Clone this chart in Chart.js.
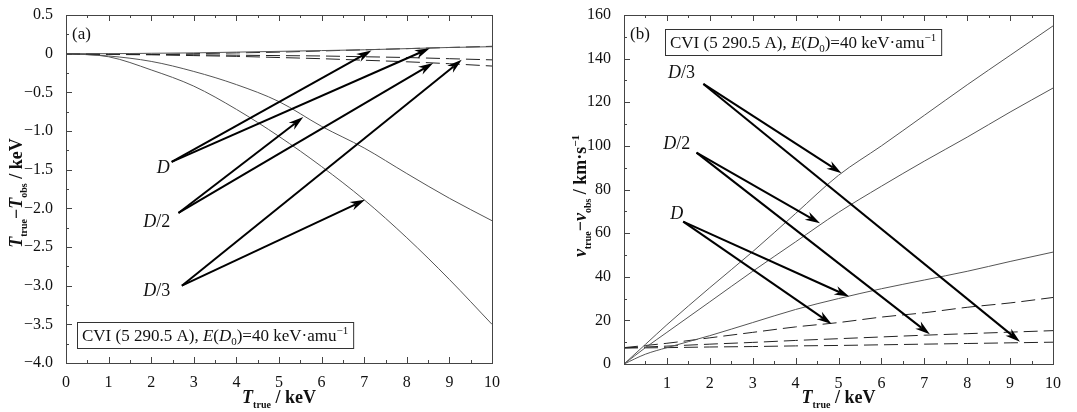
<!DOCTYPE html>
<html>
<head>
<meta charset="utf-8">
<script src="https://cdn.jsdelivr.net/npm/chart.js@4.4.1/dist/chart.umd.min.js"></script>
<style>
  body { margin: 0; background: #fff; }
  #wrap { display: flex; width: 1077px; height: 412px; }
  canvas { display: block; }
</style>
</head>
<body>
<div id="wrap">
  <canvas id="chart-a" width="540" height="412"></canvas>
  <canvas id="chart-b" width="537" height="412"></canvas>
</div>
<script>
// panel (a): T_true - T_obs (keV)
const aX = [0, 1, 2, 3, 4, 5, 6, 7, 8, 9, 10]
const aDSolid   = [0, 0, 0.005, 0.01, 0.02, 0.03, 0.04, 0.05, 0.065, 0.08, 0.09]
const aDDashed  = [0, -0.01, -0.01, 0, 0.01, 0.02, 0.035, 0.05, 0.065, 0.08, 0.095]
const aD2Solid  = [0, -0.03, -0.10, -0.23, -0.40, -0.62, -0.94, -1.22, -1.55, -1.87, -2.16]
const aD2Dashed = [0, -0.005, -0.01, -0.015, -0.02, -0.025, -0.03, -0.04, -0.05, -0.065, -0.08]
const aD3Solid  = [0, -0.04, -0.21, -0.42, -0.72, -1.07, -1.46, -1.89, -2.38, -2.92, -3.5]
const aD3Dashed = [0, -0.01, -0.015, -0.025, -0.035, -0.05, -0.065, -0.085, -0.105, -0.13, -0.16]

// panel (b): v_true - v_obs (km/s)
const bX = [0, 0.5, 1, 2, 3, 4, 5, 6, 7, 8, 9, 10]
const bD3Solid  = [0, 9, 18, 35, 51.5, 69, 86.5, 100, 114, 128, 141.5, 155]
const bD2Solid  = [0, 7.5, 14.5, 28.5, 42.5, 56, 69.5, 81.5, 93, 104, 115.5, 126.5]
const bDSolid   = [0, 4.5, 7.5, 13, 19, 25, 30, 34.5, 38.5, 42.5, 47, 51.3]
const bDDashed  = [7.5, 8.5, 9.5, 12, 14.5, 17, 19, 21.5, 23.5, 26, 28, 30.5]
const bD2Dashed = [7.4, 7.8, 8.2, 9.1, 9.9, 10.8, 11.6, 12.4, 13.2, 13.9, 14.6, 15.3]
const bD3Dashed = [7.3, 7.4, 7.5, 7.8, 8.0, 8.3, 8.5, 8.8, 9.1, 9.4, 9.7, 10.0]

// annotation arrows, data units
const aArrows = [
  { label: '', lx: 2.28, ly: -1.47, tail: [2.48, -1.40], heads: [[7.17, 0.04], [8.54, 0.07]] },
  { label: '/2', lx: 2.13, ly: -2.17, tail: [2.64, -2.06], heads: [[5.57, -0.82], [8.62, -0.12]] },
  { label: '/3', lx: 2.13, ly: -3.06, tail: [2.72, -3.0], heads: [[7.02, -1.89], [9.29, -0.08]] },
]
const bArrows = [
  { label: '/3', lx: 1.34, ly: 134, tail: [1.85, 128.4], heads: [[5.07, 87.5], [9.23, 10.2]] },
  { label: '/2', lx: 1.23, ly: 101.2, tail: [1.69, 96.9], heads: [[4.57, 64.5], [7.13, 13.6]] },
  { label: '', lx: 1.23, ly: 69.1, tail: [1.38, 65.3], heads: [[5.25, 30.9], [4.84, 18.3]] },
]

const SERIF = '"Liberation Serif", "Times New Roman", serif'
const f = (size, style) => `${style || ''} ${size}px ${SERIF}`

function pts(xs, ys) { return xs.map((x, i) => ({ x: x, y: ys[i] })) }

function solid(data) {
  return { data: data, borderColor: '#555', borderWidth: 1, pointRadius: 0, cubicInterpolationMode: 'monotone', fill: false }
}
function dashed(data) {
  return { data: data, borderColor: '#222', borderWidth: 1, borderDash: [14, 6], pointRadius: 0, cubicInterpolationMode: 'monotone', fill: false }
}

function drawRich(ctx, parts, x, y, align) {
  let w = 0
  parts.forEach(p => { ctx.font = p[1]; w += ctx.measureText(p[0]).width })
  let cx = align === 'center' ? x - w / 2 : x
  ctx.textAlign = 'left'
  ctx.textBaseline = 'alphabetic'
  parts.forEach(p => {
    ctx.font = p[1]
    ctx.fillText(p[0], cx, y + (p[2] || 0))
    cx += ctx.measureText(p[0]).width
  })
  return w
}

function arrow(ctx, x0, y0, x1, y1) {
  const a = Math.atan2(y1 - y0, x1 - x0)
  const len = 15, hw = 4.5
  const c = Math.cos(a), s = Math.sin(a)
  ctx.beginPath()
  ctx.moveTo(x0, y0)
  ctx.lineTo(x1 - c * len * 0.7, y1 - s * len * 0.7)
  ctx.stroke()
  ctx.beginPath()
  ctx.moveTo(x1, y1)
  ctx.lineTo(x1 - c * len - s * hw, y1 - s * len + c * hw)
  ctx.lineTo(x1 - c * len * 0.7, y1 - s * len * 0.7)
  ctx.lineTo(x1 - c * len + s * hw, y1 - s * len - c * hw)
  ctx.closePath()
  ctx.fill()
}

const boxParts = [
  ['CVI (5 290.5 A), ', f(17)], ['E', f(17, 'italic')], ['(', f(17)], ['D', f(17, 'italic')],
  ['0', f(11), 4], [')=40 keV·amu', f(17)], ['−1', f(11), -7],
]

// frame, inward ticks, titles, text box, arrows
const decor = {
  id: 'decor',
  afterDraw(chart, args, o) {
    const ctx = chart.ctx
    const { left, right, top, bottom } = chart.chartArea
    const sx = chart.scales.x, sy = chart.scales.y
    ctx.save()
    ctx.strokeStyle = '#444'
    ctx.lineWidth = 1
    ctx.strokeRect(left + 0.5, top + 0.5, right - left, bottom - top)
    for (let v = sx.min; v <= sx.max + 1e-9; v += o.xMinor) {
      const px = Math.round(sx.getPixelForValue(v)) + 0.5
      const major = Math.abs(v / o.xMajor - Math.round(v / o.xMajor)) < 1e-6
      const l = major ? 6 : 3
      ctx.beginPath()
      ctx.moveTo(px, bottom); ctx.lineTo(px, bottom - l)
      ctx.moveTo(px, top); ctx.lineTo(px, top + l)
      ctx.stroke()
    }
    for (let v = sy.min; v <= sy.max + 1e-9; v += o.yMinor) {
      const py = Math.round(sy.getPixelForValue(v)) + 0.5
      const major = Math.abs(v / o.yMajor - Math.round(v / o.yMajor)) < 1e-6
      const l = major ? 6 : 3
      ctx.beginPath()
      ctx.moveTo(left, py); ctx.lineTo(left + l, py)
      ctx.stroke()
    }

    ctx.fillStyle = '#111'
    ctx.font = f(17)
    ctx.textAlign = 'left'
    ctx.textBaseline = 'alphabetic'
    ctx.fillText(o.panel, left + 6, top + 24)

    // text box
    let bw = 0
    boxParts.forEach(p => { ctx.font = p[1]; bw += ctx.measureText(p[0]).width })
    ctx.strokeStyle = '#333'
    ctx.strokeRect(o.boxX + 0.5, o.boxY + 0.5, bw + 10, 26)
    drawRich(ctx, boxParts, o.boxX + 5, o.boxY + 19)

    // x title
    drawRich(ctx, [['T', f(18, 'italic bold')], ['true', f(10, 'bold'), 5], [' / keV', f(18, 'bold')]],
      (left + right) / 2, 403, 'center')

    // y title
    ctx.save()
    ctx.translate(o.yTitleX, o.yTitleY)
    ctx.rotate(-Math.PI / 2)
    drawRich(ctx, o.yTitle, 0, 0, 'center')
    ctx.restore()

    // arrows and labels
    ctx.strokeStyle = '#000'
    ctx.fillStyle = '#000'
    ctx.lineWidth = 2
    o.arrows.forEach(a => {
      const tx = sx.getPixelForValue(a.tail[0]), ty = sy.getPixelForValue(a.tail[1])
      a.heads.forEach(h => arrow(ctx, tx, ty, sx.getPixelForValue(h[0]), sy.getPixelForValue(h[1])))
      ctx.fillStyle = '#111'
      drawRich(ctx, [['D', f(18, 'italic')], [a.label, f(18)]],
        sx.getPixelForValue(a.lx), sy.getPixelForValue(a.ly) + 6, 'center')
      ctx.fillStyle = '#000'
    })
    ctx.restore()
  }
}

function scales(xOpt, yOpt, yWidth, xHeight) {
  const tickFont = { family: SERIF, size: 16 }
  return {
    x: Object.assign({
      type: 'linear', min: 0, max: 10,
      ticks: { stepSize: 1, font: tickFont, color: '#111', padding: 2, maxRotation: 0 },
      grid: { display: false }, border: { display: false },
      afterFit: s => { s.height = xHeight }
    }, xOpt),
    y: Object.assign({
      type: 'linear',
      ticks: { font: tickFont, color: '#111', padding: 5 },
      grid: { display: false }, border: { display: false },
      afterFit: s => { s.width = yWidth }
    }, yOpt)
  }
}

new Chart(document.getElementById('chart-a'), {
  type: 'line',
  data: {
    datasets: [
      solid(pts(aX, aDSolid)), dashed(pts(aX, aDDashed)),
      solid(pts(aX, aD2Solid)), dashed(pts(aX, aD2Dashed)),
      solid(pts(aX, aD3Solid)), dashed(pts(aX, aD3Dashed)),
    ]
  },
  options: {
    responsive: false, animation: false, devicePixelRatio: 1,
    layout: { padding: { left: 0, right: 48, top: 15, bottom: 0 } },
    plugins: {
      legend: { display: false }, tooltip: { enabled: false },
      decor: {
        panel: '(a)', xMinor: 0.5, xMajor: 1, yMinor: 0.25, yMajor: 0.5,
        boxX: 77, boxY: 322, yTitleX: 22, yTitleY: 193, arrows: aArrows,
        yTitle: [['T', f(18, 'italic bold')], ['true', f(10, 'bold'), 5], ['−', f(18, 'bold')],
                 ['T', f(18, 'italic bold')], ['obs', f(10, 'bold'), 5], [' / keV', f(18, 'bold')]]
      }
    },
    scales: scales({}, {
      min: -4, max: 0.5,
      ticks: {
        stepSize: 0.5, font: { family: SERIF, size: 16 }, color: '#111', padding: 5,
        callback: v => v === 0 ? '0' : v.toFixed(1).replace('-', '−')
      }
    }, 66, 49)
  },
  plugins: [decor]
})

new Chart(document.getElementById('chart-b'), {
  type: 'line',
  data: {
    datasets: [
      solid(pts(bX, bD3Solid)), solid(pts(bX, bD2Solid)), solid(pts(bX, bDSolid)),
      dashed(pts(bX, bDDashed)), dashed(pts(bX, bD2Dashed)), dashed(pts(bX, bD3Dashed)),
    ]
  },
  options: {
    responsive: false, animation: false, devicePixelRatio: 1,
    layout: { padding: { left: 0, right: 24, top: 15, bottom: 0 } },
    plugins: {
      legend: { display: false }, tooltip: { enabled: false },
      decor: {
        panel: '(b)', xMinor: 0.5, xMajor: 1, yMinor: 10, yMajor: 20,
        boxX: 125, boxY: 29, yTitleX: 46, yTitleY: 196, arrows: bArrows,
        yTitle: [['v', f(18, 'italic bold')], ['true', f(10, 'bold'), 5], ['−', f(18, 'bold')],
                 ['v', f(18, 'italic bold')], ['obs', f(10, 'bold'), 5], [' / km·s', f(18, 'bold')], ['−1', f(11, 'bold'), -7]]
      }
    },
    scales: scales({
      ticks: {
        stepSize: 1, font: { family: SERIF, size: 16 }, color: '#111', padding: 2, maxRotation: 0,
        callback: v => v === 0 ? '' : String(v)
      }
    }, {
      min: 0, max: 160,
      ticks: { stepSize: 20, font: { family: SERIF, size: 16 }, color: '#111', padding: 5 }
    }, 84, 48)
  },
  plugins: [decor]
})
</script>
</body>
</html>
